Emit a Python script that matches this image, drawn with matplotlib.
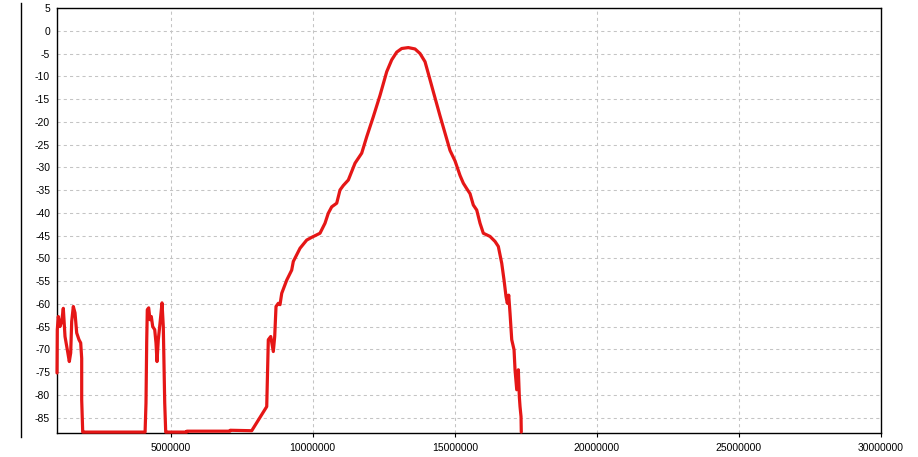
import matplotlib
matplotlib.use("Agg")
import matplotlib.pyplot as plt
from matplotlib.lines import Line2D
import numpy as np

# Frequency (MHz) and level (dB)
freq_mhz = [1.000, 1.010, 1.046, 1.106, 1.165, 1.222, 1.282, 1.363, 1.433, 1.482, 1.517,
            1.574, 1.634, 1.693, 1.774, 1.834, 1.869, 1.869, 1.905, 1.915,
            4.100, 4.132, 4.157, 4.178, 4.227, 4.273, 4.319, 4.368, 4.439, 4.484,
            4.520, 4.565, 4.625, 4.696, 4.741, 4.766, 4.791, 4.826, 4.836,
            5.565, 5.570, 7.089, 7.095, 7.853, 8.381, 8.437, 8.522, 8.613, 8.662,
            8.708, 8.789, 8.849, 8.909, 9.085, 9.260, 9.317, 9.553, 9.788, 9.964,
            10.256, 10.432, 10.548, 10.668, 10.844, 10.960, 11.077, 11.253, 11.489,
            11.724, 11.900, 12.132, 12.368, 12.604, 12.780, 12.956, 13.132, 13.364,
            13.600, 13.776, 13.952, 14.068, 14.244, 14.480, 14.656, 14.832, 15.008,
            15.184, 15.300, 15.420, 15.536, 15.652, 15.772, 15.888, 16.004, 16.240,
            16.416, 16.532, 16.652, 16.733, 16.803, 16.849, 16.898, 16.944, 17.004,
            17.085, 17.120, 17.180, 17.236, 17.271, 17.296, 17.331, 17.340]
level_db = [-75.2, -65.7, -62.8, -65.0, -63.9, -61.0, -67.2, -70.1, -72.7, -70.8, -63.9,
            -60.6, -62.0, -66.4, -67.9, -68.6, -72.0, -81.1, -88.2, -88.2,
            -88.2, -81.8, -68.3, -61.3, -60.9, -63.5, -62.8, -65.0, -65.7, -68.6,
            -72.7, -67.9, -64.3, -59.8, -65.0, -73.4, -81.8, -88.2, -88.2,
            -88.2, -88.0, -88.0, -87.8, -87.9, -82.6, -67.9, -67.2, -70.5, -67.2,
            -60.6, -59.9, -60.2, -57.7, -54.8, -52.6, -50.7, -47.8, -46.0, -45.4,
            -44.5, -42.3, -40.1, -38.7, -37.9, -35.0, -34.0, -32.8, -29.1,
            -26.9, -23.3, -18.9, -14.2, -9.0, -6.4, -4.7, -3.9, -3.7,
            -4.0, -5.0, -6.8, -9.4, -13.4, -18.7, -22.5, -26.3, -28.6,
            -31.8, -33.5, -34.7, -35.8, -38.3, -39.4, -42.3, -44.5, -45.2,
            -46.3, -47.4, -51.1, -54.8, -58.4, -59.9, -58.1, -62.1, -67.9,
            -70.1, -74.5, -78.9, -74.5, -80.4, -82.6, -84.8, -88.2]

x_ticks = [5000000, 10000000, 15000000, 20000000, 25000000, 30000000]
y_ticks = list(range(5, -90, -5))

plt.rcParams['font.family'] = ['Liberation Sans', 'DejaVu Sans']

fig = plt.figure(figsize=(9.18, 4.57), dpi=100)
ax = fig.add_axes([57/918, 1 - 433/457, (881-57)/918, (433-8)/457])

x = np.array(freq_mhz) * 1e6
ax.plot(x, level_db, color='#e51616', lw=2.3, solid_joinstyle='round',
        solid_capstyle='round', zorder=3, clip_on=False)

ax.set_xlim(1000000, 30000000)
ax.set_ylim(-88.4, 5)
ax.set_xticks(x_ticks)
ax.set_xticklabels([str(v) for v in x_ticks])
ax.set_yticks(y_ticks)
ax.set_yticklabels([str(v) for v in y_ticks])

ax.tick_params(axis='x', length=3, width=0.8, pad=4, labelsize=7.5, colors='black')
ax.tick_params(axis='y', length=0, pad=5, labelsize=7.5, colors='black')

ax.grid(True, color='#c4c4c4', linestyle=(0, (3, 3)), linewidth=0.75)
ax.set_axisbelow(True)
for s in ax.spines.values():
    s.set_color('black')
    s.set_linewidth(1.0)
    s.set_zorder(2)

# extra vertical rule at the far left of the figure
fig.add_artist(Line2D([20.5/918, 20.5/918], [1 - 437/457, 1 - 3/457],
                      color='black', lw=1.0, transform=fig.transFigure))

fig.savefig('out.png', dpi=100)
